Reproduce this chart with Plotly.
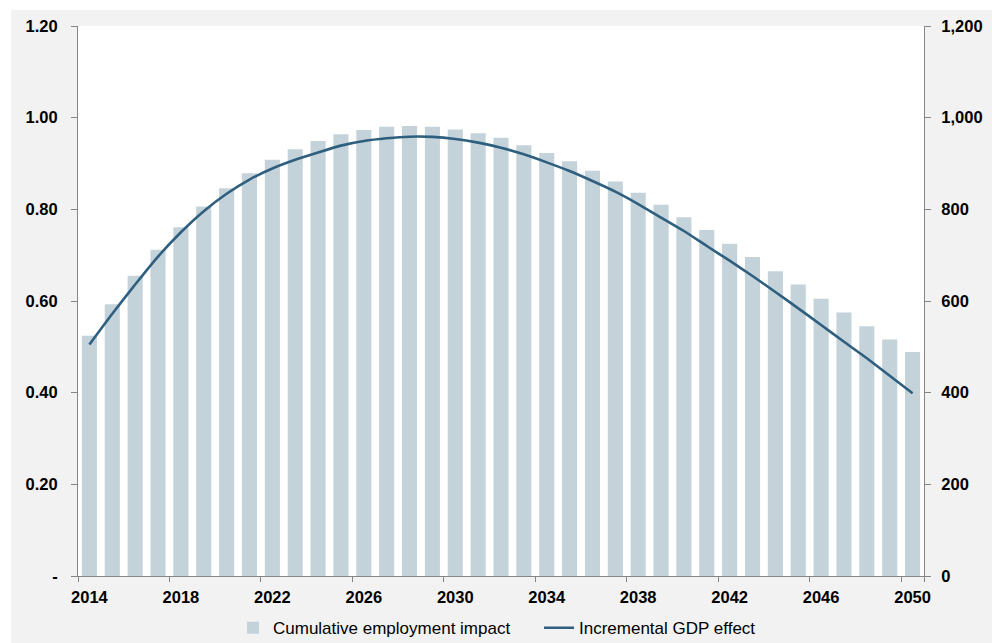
import plotly.graph_objects as go

# Years on the category axis
years = [str(y) for y in range(2014, 2051)]

# Cumulative employment impact (right axis)
employment = [524, 593, 655, 712, 761, 806, 846, 879, 908, 931,
              949, 964, 973, 980, 982, 980, 974, 966, 956, 940,
              923, 905, 884, 861, 836, 810, 783, 755, 725, 696,
              665, 636, 605, 575, 545, 516, 489]

# Incremental GDP effect (left axis)
gdp_effect = [0.505, 0.572, 0.636, 0.697, 0.750, 0.796, 0.834, 0.865, 0.889, 0.908,
              0.924, 0.939, 0.949, 0.955, 0.9585, 0.958, 0.9535, 0.9455, 0.9345, 0.920,
              0.9025, 0.8836, 0.8618, 0.8386, 0.8116, 0.782, 0.7527, 0.720, 0.688, 0.6545,
              0.6196, 0.584, 0.5476, 0.511, 0.475, 0.437, 0.3986]

x_tickvals = years[::4]
left_tickvals = [0, 0.2, 0.4, 0.6, 0.8, 1.0, 1.2]
left_ticktext = ["-", "0.20", "0.40", "0.60", "0.80", "1.00", "1.20"]
right_tickvals = [0, 200, 400, 600, 800, 1000, 1200]
right_ticktext = ["0", "200", "400", "600", "800", "1,000", "1,200"]

BAR_COLOR = "#c4d2da"
LINE_COLOR = "#2f5f7f"
AXIS_COLOR = "#868686"
BG_GREY = "#f2f2f2"
FONT = "Liberation Sans, Arial, sans-serif"

fig = go.Figure()

fig.add_trace(go.Bar(
    x=years, y=employment, name="Cumulative employment impact",
    marker=dict(color=BAR_COLOR, line=dict(width=0)),
    yaxis="y",
))

fig.add_trace(go.Scatter(
    x=years, y=gdp_effect, name="Incremental GDP effect",
    mode="lines", line=dict(color=LINE_COLOR, width=2.6, shape="spline", smoothing=0.6),
    yaxis="y2",
))

tick_font = dict(family=FONT, size=16.5, color="#000000", weight="bold")

fig.update_layout(
    width=992, height=643,
    margin=dict(l=78, r=68, t=26, b=67, autoexpand=False),
    paper_bgcolor=BG_GREY,
    plot_bgcolor="#ffffff",
    bargap=0.34,
    showlegend=True,
    legend=dict(
        orientation="h", x=(233 - 78) / 846, xanchor="left", y=-0.095, yanchor="middle",
        entrywidth=261, entrywidthmode="pixels",
        font=dict(family=FONT, size=17, color="#000000"),
        bgcolor="rgba(0,0,0,0)", traceorder="normal",
    ),
    xaxis=dict(
        type="category", range=[-0.5, 36.5],
        tickmode="array", tickvals=x_tickvals, ticktext=x_tickvals,
        tickson="boundaries", ticks="outside", ticklen=5, tickcolor=AXIS_COLOR,
        tickangle=0, automargin=False, ticklabelstandoff=6,
        showline=True, linecolor=AXIS_COLOR, linewidth=1,
        showgrid=False, tickfont=tick_font, zeroline=False,
    ),
    yaxis=dict(
        side="right", range=[0, 1200], automargin=False, ticklabelstandoff=7,
        tickmode="array", tickvals=right_tickvals, ticktext=right_ticktext,
        ticks="outside", ticklen=6, tickcolor=AXIS_COLOR,
        showline=True, linecolor=AXIS_COLOR, linewidth=1,
        showgrid=False, zeroline=False, tickfont=tick_font,
    ),
    yaxis2=dict(
        side="left", overlaying="y", range=[0, 1.2], automargin=False, ticklabelstandoff=10,
        tickmode="array", tickvals=left_tickvals, ticktext=left_ticktext,
        ticks="outside", ticklen=6, tickcolor=AXIS_COLOR,
        showline=True, linecolor=AXIS_COLOR, linewidth=1,
        showgrid=False, zeroline=False, tickfont=tick_font,
    ),
    shapes=[
        # white margin strips along the top and left edges of the page
        dict(type="rect", xref="paper", yref="paper", x0=-0.2, x1=1.2,
             y0=(576 - 10) / 550, y1=1.1, fillcolor="#ffffff", line=dict(width=0), layer="below"),
        dict(type="rect", xref="paper", yref="paper", x0=-0.2, x1=(11 - 78) / 846,
             y0=-0.2, y1=1.1, fillcolor="#ffffff", line=dict(width=0), layer="below"),
    ],
)

fig.write_html("out.html")
